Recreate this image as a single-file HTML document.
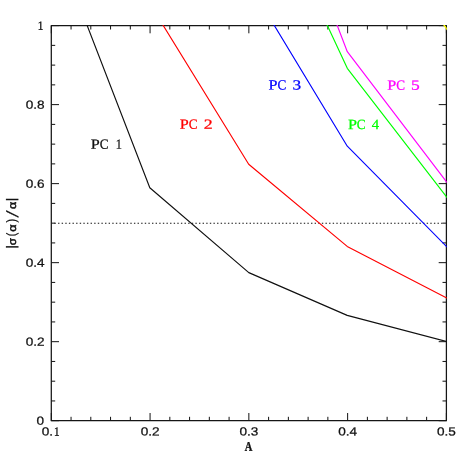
<!DOCTYPE html>
<html><head><meta charset="utf-8"><title>plot</title>
<style>
html,body{margin:0;padding:0;background:#fff;}
body{width:471px;height:471px;overflow:hidden;font-family:"Liberation Sans",sans-serif;}
svg{display:block;will-change:transform}
</style></head>
<body>
<svg width="471" height="471" viewBox="0 0 471 471">
<rect x="0" y="0" width="471" height="471" fill="#ffffff"/>
<path d="M51.30 420.70V413.00M51.30 25.60V33.30M71.06 420.70V416.80M71.06 25.60V29.50M90.81 420.70V416.80M90.81 25.60V29.50M110.56 420.70V416.80M110.56 25.60V29.50M130.32 420.70V416.80M130.32 25.60V29.50M150.07 420.70V413.00M150.07 25.60V33.30M169.83 420.70V416.80M169.83 25.60V29.50M189.58 420.70V416.80M189.58 25.60V29.50M209.34 420.70V416.80M209.34 25.60V29.50M229.09 420.70V416.80M229.09 25.60V29.50M248.85 420.70V413.00M248.85 25.60V33.30M268.60 420.70V416.80M268.60 25.60V29.50M288.36 420.70V416.80M288.36 25.60V29.50M308.12 420.70V416.80M308.12 25.60V29.50M327.87 420.70V416.80M327.87 25.60V29.50M347.63 420.70V413.00M347.63 25.60V33.30M367.38 420.70V416.80M367.38 25.60V29.50M387.14 420.70V416.80M387.14 25.60V29.50M406.89 420.70V416.80M406.89 25.60V29.50M426.64 420.70V416.80M426.64 25.60V29.50M446.40 420.70V413.00M446.40 25.60V33.30M51.30 420.70H59.00M446.40 420.70H438.70M51.30 400.94H55.20M446.40 400.94H442.50M51.30 381.19H55.20M446.40 381.19H442.50M51.30 361.44H55.20M446.40 361.44H442.50M51.30 341.68H59.00M446.40 341.68H438.70M51.30 321.93H55.20M446.40 321.93H442.50M51.30 302.17H55.20M446.40 302.17H442.50M51.30 282.41H55.20M446.40 282.41H442.50M51.30 262.66H59.00M446.40 262.66H438.70M51.30 242.91H55.20M446.40 242.91H442.50M51.30 223.15H55.20M446.40 223.15H442.50M51.30 203.39H55.20M446.40 203.39H442.50M51.30 183.64H59.00M446.40 183.64H438.70M51.30 163.88H55.20M446.40 163.88H442.50M51.30 144.13H55.20M446.40 144.13H442.50M51.30 124.38H55.20M446.40 124.38H442.50M51.30 104.62H59.00M446.40 104.62H438.70M51.30 84.87H55.20M446.40 84.87H442.50M51.30 65.11H55.20M446.40 65.11H442.50M51.30 45.36H55.20M446.40 45.36H442.50M51.30 25.60H59.00M446.40 25.60H438.70" stroke="#111111" stroke-width="1.0" fill="none"/>
<line x1="54.43" y1="223.25" x2="442.7" y2="223.25" stroke="#111111" stroke-width="1.1" stroke-dasharray="1.4 2.214"/>
<rect x="51.30" y="25.60" width="395.10" height="395.10" fill="none" stroke="#151515" stroke-width="1.25" stroke-linejoin="round"/>
<clipPath id="bx"><rect x="50.75" y="25.05" width="396.10" height="396.20"/></clipPath>
<g clip-path="url(#bx)">
<path d="M86.66 24.20L149.80 187.80L248.80 272.60L347.20 315.40L447.85 341.78" stroke="#101010" stroke-width="1.15" fill="none" stroke-linejoin="round"/>
<path d="M162.51 24.32L248.70 164.20L347.20 246.40L447.73 298.59" stroke="#ff0000" stroke-width="1.15" fill="none" stroke-linejoin="round"/>
<path d="M273.62 24.32L347.30 146.20L447.45 247.47" stroke="#0000ff" stroke-width="1.15" fill="none" stroke-linejoin="round"/>
<path d="M326.77 24.24L347.30 68.30L447.32 197.89" stroke="#00ff00" stroke-width="1.15" fill="none" stroke-linejoin="round"/>
<path d="M336.76 24.20L347.30 51.70L447.31 182.89" stroke="#ff00ff" stroke-width="1.15" fill="none" stroke-linejoin="round"/>
<path d="M443.20 23.90L447.40 29.85" stroke="#ffff00" stroke-width="1.4" fill="none" stroke-linejoin="round"/>
</g>
<defs><filter id="ga" x="0" y="0" width="471" height="471" filterUnits="userSpaceOnUse"><feOffset dx="0" dy="0"/></filter></defs>
<g filter="url(#ga)" text-rendering="geometricPrecision">
<text transform="translate(150.07 435.60) rotate(0.1) scale(1.15 1)" text-anchor="middle" style="font-family:'Liberation Sans',sans-serif;font-size:11.8px" fill="#111111" stroke="#111111" stroke-width="0.25">0.2</text>
<text transform="translate(248.85 435.60) rotate(0.1) scale(1.15 1)" text-anchor="middle" style="font-family:'Liberation Sans',sans-serif;font-size:11.8px" fill="#111111" stroke="#111111" stroke-width="0.25">0.3</text>
<text transform="translate(347.63 435.60) rotate(0.1) scale(1.15 1)" text-anchor="middle" style="font-family:'Liberation Sans',sans-serif;font-size:11.8px" fill="#111111" stroke="#111111" stroke-width="0.25">0.4</text>
<text transform="translate(446.40 435.60) rotate(0.1) scale(1.15 1)" text-anchor="middle" style="font-family:'Liberation Sans',sans-serif;font-size:11.8px" fill="#111111" stroke="#111111" stroke-width="0.25">0.5</text>
<text transform="translate(41.66 435.60) rotate(0.1) scale(1.15 1)" text-anchor="start" style="font-family:'Liberation Sans',sans-serif;font-size:11.8px" fill="#111111" stroke="#111111" stroke-width="0.25">0.</text>
<text transform="translate(54.00 435.72) rotate(0.1) scale(0.876 1)" style="font-family:'Liberation Serif',serif;font-weight:normal;font-size:12.65px" fill="#111111" stroke="#111111" stroke-width="0.35">1</text>
<text transform="translate(44.54 345.83) rotate(0.1) scale(1.15 1)" text-anchor="end" style="font-family:'Liberation Sans',sans-serif;font-size:11.8px" fill="#111111" stroke="#111111" stroke-width="0.25">0.2</text>
<text transform="translate(44.54 266.81) rotate(0.1) scale(1.15 1)" text-anchor="end" style="font-family:'Liberation Sans',sans-serif;font-size:11.8px" fill="#111111" stroke="#111111" stroke-width="0.25">0.4</text>
<text transform="translate(44.54 187.79) rotate(0.1) scale(1.15 1)" text-anchor="end" style="font-family:'Liberation Sans',sans-serif;font-size:11.8px" fill="#111111" stroke="#111111" stroke-width="0.25">0.6</text>
<text transform="translate(44.54 108.77) rotate(0.1) scale(1.15 1)" text-anchor="end" style="font-family:'Liberation Sans',sans-serif;font-size:11.8px" fill="#111111" stroke="#111111" stroke-width="0.25">0.8</text>
<text transform="translate(44.15 424.75) rotate(0.1) scale(1.15 1)" text-anchor="end" style="font-family:'Liberation Sans',sans-serif;font-size:11.8px" fill="#111111" stroke="#111111" stroke-width="0.25">0</text>
<text transform="translate(37.80 29.82) rotate(0.1) scale(0.897 1)" style="font-family:'Liberation Serif',serif;font-weight:normal;font-size:12.35px" fill="#111111" stroke="#111111" stroke-width="0.35">1</text>
<text transform="translate(244.85 450.75) rotate(0.1) scale(0.796 1)" style="font-family:'Liberation Serif',serif;font-weight:bold;font-size:13.18px" fill="#111111" stroke="#111111" stroke-width="0.3">A</text>
<g transform="translate(16.3 248.0) rotate(-90)">
<text transform="translate(-1.01 -0.70) rotate(0.1) scale(1.226 1)" style="font-family:'Liberation Sans',sans-serif;font-weight:normal;font-size:13.08px" fill="#111111" stroke="#111111" stroke-width="0.25">|</text>
<text transform="translate(2.76 -0.26) rotate(0.1) scale(1.068 1)" style="font-family:'Liberation Sans',sans-serif;font-weight:normal;font-size:10.87px" fill="#111111" stroke="#111111" stroke-width="0.5">σ</text>
<text transform="translate(11.68 -0.47) rotate(0.1) scale(0.782 1)" style="font-family:'Liberation Sans',sans-serif;font-weight:normal;font-size:13.26px" fill="#111111" stroke="#111111" stroke-width="0.25">(</text>
<text transform="translate(16.17 -0.25) rotate(0.1) scale(1.191 1)" style="font-family:'Liberation Sans',sans-serif;font-weight:normal;font-size:10.68px" fill="#111111" stroke="#111111" stroke-width="0.5">α</text>
<text transform="translate(25.56 -0.47) rotate(0.1) scale(0.839 1)" style="font-family:'Liberation Sans',sans-serif;font-weight:normal;font-size:13.26px" fill="#111111" stroke="#111111" stroke-width="0.25">)</text>
<text transform="translate(30.56 1.91) rotate(0.1) skewX(-11.87)" style="font-family:'Liberation Sans',sans-serif;font-weight:normal;font-size:16.54px" fill="#111111" stroke="#111111" stroke-width="0.25">/</text>
<text transform="translate(38.93 -0.25) rotate(0.1) scale(1.163 1)" style="font-family:'Liberation Sans',sans-serif;font-weight:normal;font-size:10.68px" fill="#111111" stroke="#111111" stroke-width="0.5">α</text>
<text transform="translate(46.66 -0.70) rotate(0.1) scale(1.038 1)" style="font-family:'Liberation Sans',sans-serif;font-weight:normal;font-size:13.08px" fill="#111111" stroke="#111111" stroke-width="0.25">|</text>
</g>
<text transform="translate(90.76 148.78) rotate(0.1) scale(1.140 1)" style="font-family:'Liberation Serif',serif;font-weight:normal;font-size:14.13px" fill="#111111" stroke="#111111" stroke-width="0.25">P</text>
<text transform="translate(99.63 148.79) rotate(0.1) scale(0.935 1)" style="font-family:'Liberation Serif',serif;font-weight:normal;font-size:14.14px" fill="#111111" stroke="#111111" stroke-width="0.25">C</text>
<text transform="translate(115.74 148.78) rotate(0.1) scale(0.882 1)" style="font-family:'Liberation Serif',serif;font-weight:normal;font-size:14.01px" fill="#111111" stroke="#111111" stroke-width="0.25">1</text>
<text transform="translate(179.86 128.82) rotate(0.1) scale(1.140 1)" style="font-family:'Liberation Serif',serif;font-weight:normal;font-size:14.13px" fill="#ff0000" stroke="#ff0000" stroke-width="0.25">P</text>
<text transform="translate(188.73 128.84) rotate(0.1) scale(0.935 1)" style="font-family:'Liberation Serif',serif;font-weight:normal;font-size:14.14px" fill="#ff0000" stroke="#ff0000" stroke-width="0.25">C</text>
<text transform="translate(203.74 128.82) rotate(0.1) scale(1.277 1)" style="font-family:'Liberation Serif',serif;font-weight:normal;font-size:13.97px" fill="#ff0000" stroke="#ff0000" stroke-width="0.25">2</text>
<text transform="translate(268.56 89.53) rotate(0.1) scale(1.140 1)" style="font-family:'Liberation Serif',serif;font-weight:normal;font-size:14.13px" fill="#0000ff" stroke="#0000ff" stroke-width="0.25">P</text>
<text transform="translate(277.43 89.54) rotate(0.1) scale(0.935 1)" style="font-family:'Liberation Serif',serif;font-weight:normal;font-size:14.14px" fill="#0000ff" stroke="#0000ff" stroke-width="0.25">C</text>
<text transform="translate(292.40 89.49) rotate(0.1) scale(1.244 1)" style="font-family:'Liberation Serif',serif;font-weight:normal;font-size:13.92px" fill="#0000ff" stroke="#0000ff" stroke-width="0.25">3</text>
<text transform="translate(347.96 129.03) rotate(0.1) scale(1.140 1)" style="font-family:'Liberation Serif',serif;font-weight:normal;font-size:14.13px" fill="#00ff00" stroke="#00ff00" stroke-width="0.25">P</text>
<text transform="translate(356.83 129.04) rotate(0.1) scale(0.935 1)" style="font-family:'Liberation Serif',serif;font-weight:normal;font-size:14.14px" fill="#00ff00" stroke="#00ff00" stroke-width="0.25">C</text>
<text transform="translate(371.64 129.03) rotate(0.1) scale(1.049 1)" style="font-family:'Liberation Serif',serif;font-weight:normal;font-size:14.05px" fill="#00ff00" stroke="#00ff00" stroke-width="0.25">4</text>
<text transform="translate(387.26 89.67) rotate(0.1) scale(1.140 1)" style="font-family:'Liberation Serif',serif;font-weight:normal;font-size:14.13px" fill="#ff00ff" stroke="#ff00ff" stroke-width="0.25">P</text>
<text transform="translate(396.13 89.69) rotate(0.1) scale(0.935 1)" style="font-family:'Liberation Serif',serif;font-weight:normal;font-size:14.14px" fill="#ff00ff" stroke="#ff00ff" stroke-width="0.25">C</text>
<text transform="translate(410.96 89.64) rotate(0.1) scale(1.244 1)" style="font-family:'Liberation Serif',serif;font-weight:normal;font-size:14.07px" fill="#ff00ff" stroke="#ff00ff" stroke-width="0.25">5</text>
</g>
</svg>
</body></html>
